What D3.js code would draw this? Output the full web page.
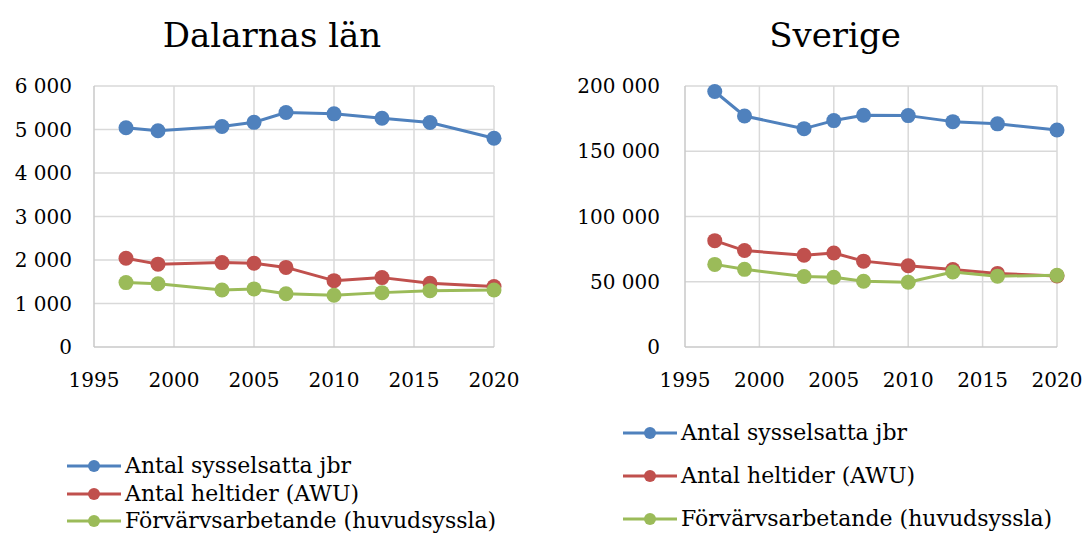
<!DOCTYPE html>
<html>
<head>
<meta charset="utf-8">
<script src="https://cdn.jsdelivr.net/npm/d3@7"></script>
<style>
  html, body { margin: 0; padding: 0; background: #fff; }
  svg { display: block; }
  text { font-family: "DejaVu Serif", "Liberation Serif", serif; fill: #000; }
</style>
</head>
<body>
<svg id="chart" width="1085" height="535"></svg>
<script>
const years = [1997, 1999, 2003, 2005, 2007, 2010, 2013, 2016, 2020];
const seriesNames = ["Antal sysselsatta jbr", "Antal heltider (AWU)", "Förvärvsarbetande (huvudsyssla)"];
const seriesColors = ["#4F81BD", "#C0504D", "#9BBB59"];

const dalarnaSysselsatta = [5040, 4970, 5070, 5165, 5390, 5360, 5260, 5160, 4800];
const dalarnaHeltider    = [2040, 1905, 1940, 1925, 1830, 1525, 1595, 1465, 1390];
const dalarnaForvarv     = [1480, 1455, 1310, 1335, 1225, 1190, 1250, 1295, 1310];

const sverigeSysselsatta = [195800, 177000, 167300, 173500, 177600, 177300, 172700, 171000, 166300];
const sverigeHeltider    = [81500, 73900, 70300, 72000, 65800, 62300, 59400, 56400, 54500];
const sverigeForvarv     = [63300, 59500, 54000, 53500, 50400, 49600, 57500, 54300, 54900];

const xTicks = [1995, 2000, 2005, 2010, 2015, 2020];
const dalarnaYTicks = [0, 1000, 2000, 3000, 4000, 5000, 6000];
const sverigeYTicks = [0, 50000, 100000, 150000, 200000];

const locale = d3.formatLocale({decimal: ",", thousands: "\u00a0", grouping: [3], currency: ["", " kr"]});
const fmt = locale.format(",d");

const svg = d3.select("#chart");

function panel(cfg) {
  const x = d3.scaleLinear().domain([1995, 2020]).range([cfg.left, cfg.right]);
  const y = d3.scaleLinear().domain([0, cfg.yMax]).range([cfg.bottom, cfg.top]);
  const g = svg.append("g");

  g.append("g").selectAll("line").data(cfg.yTicks.filter(d => d > 0)).join("line")
    .attr("x1", cfg.left).attr("x2", cfg.right)
    .attr("y1", d => y(d)).attr("y2", d => y(d))
    .attr("stroke", "#d9d9d9").attr("stroke-width", 1.5);
  g.append("g").selectAll("line").data(xTicks.filter(d => d > 1995)).join("line")
    .attr("x1", d => x(d)).attr("x2", d => x(d))
    .attr("y1", cfg.top).attr("y2", cfg.bottom)
    .attr("stroke", "#d9d9d9").attr("stroke-width", 1.5);
  g.append("line").attr("x1", cfg.left).attr("x2", cfg.left).attr("y1", cfg.top).attr("y2", cfg.bottom)
    .attr("stroke", "#c8c8c8").attr("stroke-width", 1.5);
  g.append("line").attr("x1", cfg.left).attr("x2", cfg.right).attr("y1", cfg.bottom).attr("y2", cfg.bottom)
    .attr("stroke", "#c8c8c8").attr("stroke-width", 1.5);

  g.append("g").selectAll("text").data(cfg.yTicks).join("text")
    .attr("x", cfg.yLabelX).attr("y", d => y(d)).attr("dy", "0.36em")
    .attr("text-anchor", "end").attr("font-size", 20)
    .text(d => fmt(d));
  g.append("g").selectAll("text").data(xTicks).join("text")
    .attr("x", d => x(d)).attr("y", 387)
    .attr("text-anchor", "middle").attr("font-size", 20)
    .text(d => d);

  g.append("text").attr("x", cfg.titleX).attr("y", 47).attr("text-anchor", "middle")
    .attr("font-size", 34).text(cfg.title);

  const line = d3.line().x((d, i) => x(years[i])).y(d => y(d));
  cfg.series.forEach((vals, k) => {
    g.append("path").datum(vals).attr("d", line)
      .attr("fill", "none").attr("stroke", seriesColors[k]).attr("stroke-width", 3)
      .attr("stroke-linejoin", "round");
    g.append("g").selectAll("circle").data(vals).join("circle")
      .attr("cx", (d, i) => x(years[i])).attr("cy", d => y(d)).attr("r", 7.5)
      .attr("fill", seriesColors[k]);
  });

  const lg = g.append("g");
  seriesNames.forEach((name, k) => {
    const ly = cfg.legendY[k];
    lg.append("line").attr("x1", cfg.legendX).attr("x2", cfg.legendX + 54)
      .attr("y1", ly).attr("y2", ly).attr("stroke", seriesColors[k]).attr("stroke-width", 3);
    lg.append("circle").attr("cx", cfg.legendX + 27).attr("cy", ly).attr("r", 6)
      .attr("fill", seriesColors[k]);
    lg.append("text").attr("x", cfg.legendX + 58).attr("y", ly).attr("dy", "0.33em")
      .attr("font-size", 22).text(name);
  });
}

panel({
  title: "Dalarnas län", titleX: 272,
  left: 94, right: 494, top: 86, bottom: 347,
  yMax: 6000, yTicks: dalarnaYTicks, yLabelX: 72,
  series: [dalarnaSysselsatta, dalarnaHeltider, dalarnaForvarv],
  legendX: 67, legendY: [466, 494, 521]
});
panel({
  title: "Sverige", titleX: 835,
  left: 685, right: 1057, top: 86, bottom: 347,
  yMax: 200000, yTicks: sverigeYTicks, yLabelX: 660,
  series: [sverigeSysselsatta, sverigeHeltider, sverigeForvarv],
  legendX: 623, legendY: [433, 476, 519]
});
</script>
</body>
</html>
